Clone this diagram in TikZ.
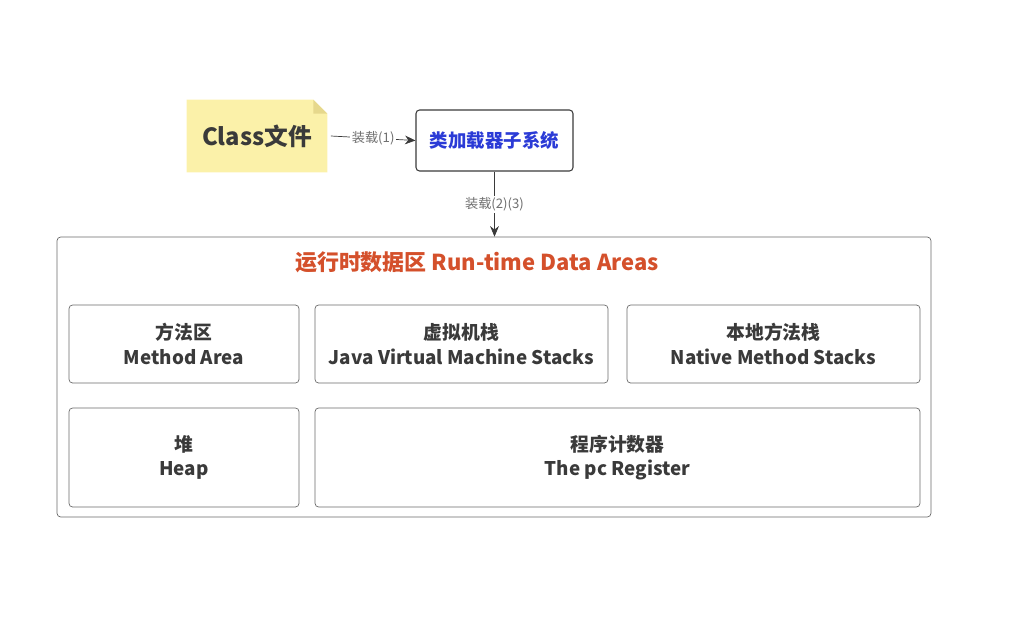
\documentclass[tikz,border=0pt]{standalone}
\usepackage{fontspec}
\setmainfont{Noto Sans CJK SC}
\usepackage{xcolor}
\usepackage{tikz}
\usetikzlibrary{arrows.meta,positioning,calc}
\definecolor{noteYellow}{HTML}{FBF1A9}
\definecolor{noteFold}{HTML}{E6D88C}
\definecolor{boxGray}{HTML}{6A6A6A}
\definecolor{txtGray}{HTML}{3A3A3A}
\definecolor{lblGray}{HTML}{707070}
\definecolor{loaderBlue}{HTML}{2B3BD6}
\definecolor{areaRed}{HTML}{D4502B}

\begin{document}
\begin{tikzpicture}[x=0.02cm,y=-0.02cm, >={Stealth[length=6pt,width=5pt]},
  area/.style={draw=boxGray,rounded corners=2pt,fill=white,inner sep=0pt,
    align=center,font=\fontsize{10.7}{14}\selectfont\bfseries,text=txtGray},
  lbl/.style={fill=white,inner sep=1pt,text=lblGray,font=\fontsize{7.5}{9}\selectfont},
  link/.style={draw=txtGray,->}]
\useasboundingbox (0,0) rectangle (1018,619);
% --- class file and loader ---
  \node[minimum width=2.8cm,minimum height=1.44cm,inner sep=0pt] (note) at (257,136) {};
  \fill[noteYellow] (note.south west) -- (note.north west) -- ([xshift=-0.28cm]note.north east)
    -- ([yshift=-0.28cm]note.north east) -- (note.south east) -- cycle;
  \fill[noteFold] ([xshift=-0.28cm]note.north east) -- ([yshift=-0.28cm]note.north east)
    -- ([xshift=-0.28cm,yshift=-0.28cm]note.north east) -- cycle;
  \node[font=\fontsize{13.5}{16}\selectfont\bfseries,text=txtGray] (cls) at (note.center) {Class文件};
  \node[draw=txtGray,line width=0.6pt,rounded corners=2pt,minimum width=3.14cm,minimum height=1.22cm,
    font=\fontsize{10.5}{14}\selectfont\bfseries,text=loaderBlue] (loader) at (494.5,140.5) {类加载器子系统};
% --- runtime data areas ---
  \node[draw=boxGray,rounded corners=2pt,minimum width=17.48cm,minimum height=5.6cm] (rda) at (494,377) {};
  \node[font=\fontsize{12.5}{15}\selectfont\bfseries,text=areaRed] (title) at (477,262)
    {运行时数据区 Run-time Data Areas};
  \node[area,minimum width=4.6cm,minimum height=1.56cm] (method) at (184,344) {方法区\\Method Area};
  \node[area,minimum width=5.86cm,minimum height=1.56cm] (jvms) at (461.5,344) {虚拟机栈\\Java Virtual Machine Stacks};
  \node[area,minimum width=5.86cm,minimum height=1.56cm] (native) at (773.5,344) {本地方法栈\\Native Method Stacks};
  \node[area,minimum width=4.6cm,minimum height=1.98cm] (heap) at (184,457.5) {堆\\Heap};
  \node[area,minimum width=12.1cm,minimum height=1.98cm] (pc) at (617.5,457.5) {程序计数器\\The pc Register};
% --- loading ---
  \draw[link] ([xshift=2pt]note.east) -- node[lbl] {装载(1)} (loader.west);
  \draw[link] (loader.south) -- node[lbl] {装载(2)(3)} (loader.south |- rda.north);
\end{tikzpicture}
\end{document}
